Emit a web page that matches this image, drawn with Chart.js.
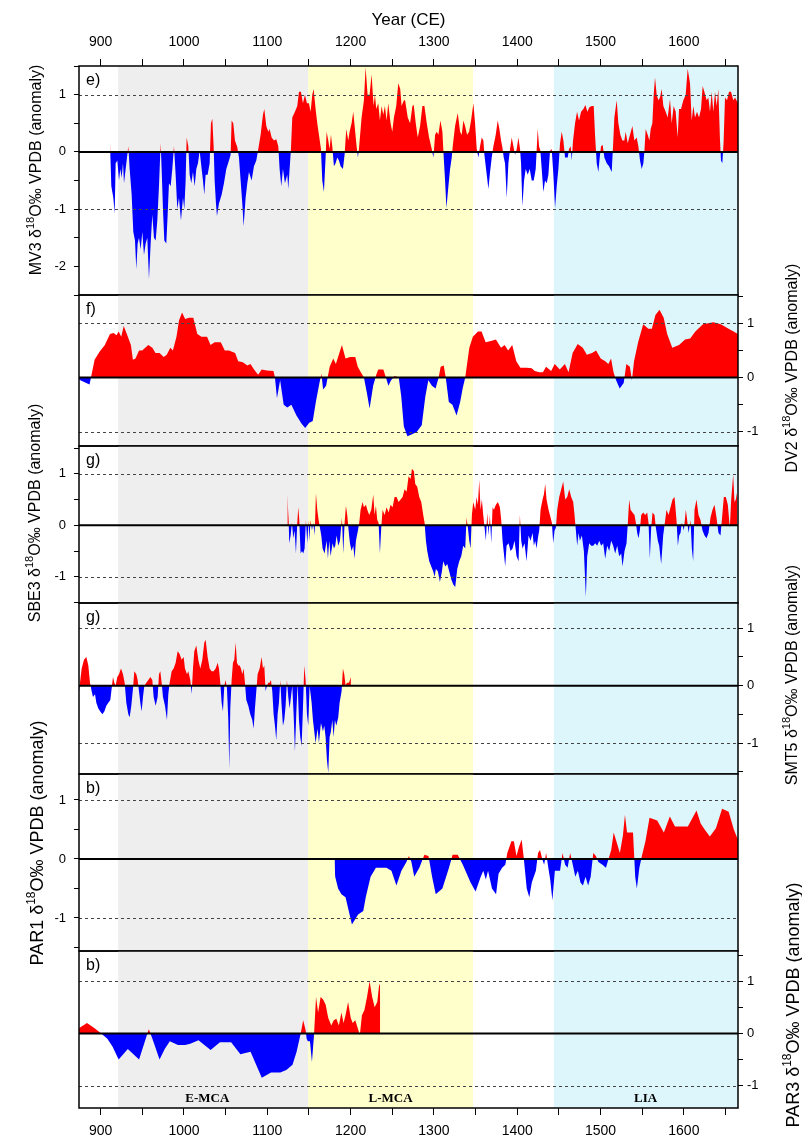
<!DOCTYPE html>
<html>
<head>
<meta charset="utf-8">
<script src="https://cdn.jsdelivr.net/npm/chart.js@4.4.1/dist/chart.umd.min.js"></script>
<style>
html,body{margin:0;padding:0;background:#fff;}
#wrap{position:relative;width:802px;height:1139px;overflow:hidden;background:#fff;}
#wrap canvas{position:absolute;left:0;top:0;}
</style>
</head>
<body>
<div id="wrap">
<canvas id="c0" width="802" height="1139"></canvas>
<canvas id="c1" width="802" height="1139"></canvas>
<canvas id="c2" width="802" height="1139"></canvas>
<canvas id="c3" width="802" height="1139"></canvas>
<canvas id="c4" width="802" height="1139"></canvas>
<canvas id="c5" width="802" height="1139"></canvas>
</div>
<script>
// ---------------- DATA ----------------
const yearTickValues = [900,950,1000,1050,1100,1150,1200,1250,1300,1350,1400,1450,1500,1550,1600,1650];
const periodNames = ['E-MCA','L-MCA','LIA'];
const periodStart = [921, 1149, 1444];
const periodEnd = [1149, 1347, 1665];
const periodLabelYear = [1028, 1248, 1554];
const recordNames = ['MV3','DV2','SBE3','SMT5','PAR1','PAR3'];
const panelLetters = ['e)','f)','g)','g)','b)','b)'];

// [year CE, d18O anomaly]
const mv3Series = [[911.2,0.15],[912.8,-0.6],[915.2,-0.8],[916.8,-1.08],[918,-0.2],[920,-0.15],[922,-0.5],[923.6,-0.3],[925.2,-0.45],[926.8,-0.2],[928,-0.55],[930,-0.3],[932,-0.05],[933.2,0.1],[934.8,-0.3],[937.2,-0.75],[939.2,-1.4],[941.2,-1.55],[942.8,-2.05],[944.4,-1.6],[946,-1.5],[948,-1.7],[950,-1.4],[952,-1.8],[954,-1.6],[956,-1.5],[958,-2.22],[960,-1.6],[962,-1.1],[964,-1.5],[966,-1.55],[968,-1.2],[970,-0.6],[972,0.15],[973.2,-0.3],[974.8,-1.0],[976.4,-1.55],[978.8,-1.6],[980.4,-1.1],[982,-0.55],[984,-0.6],[986,-0.3],[988,0.1],[990,-0.4],[992,-1.0],[994,-0.8],[996.4,-1.2],[998.8,-0.8],[1000.4,-1.0],[1002,-0.5],[1003.2,0.25],[1005.2,0.1],[1006.8,-0.4],[1008.8,-0.55],[1010.8,-0.35],[1012.8,-0.6],[1014.8,-0.3],[1016.8,-0.2],[1018.8,0.02],[1021.2,-0.3],[1022.8,-0.5],[1024.4,-0.75],[1026,-0.4],[1028.4,-0.4],[1030.8,-0.2],[1032.4,0.5],[1034,0.58],[1035.6,0.1],[1036.8,-0.5],[1038.4,-0.9],[1039.6,-1.12],[1042,-0.9],[1045.2,-0.75],[1048,-0.55],[1050.8,-0.3],[1054,-0.15],[1056,-0.05],[1057.2,0.55],[1059.2,0.5],[1061.2,0.2],[1064,0.08],[1066,-0.1],[1068,-0.5],[1070,-0.9],[1071.6,-1.3],[1074,-0.8],[1076,-0.55],[1078,-0.35],[1081.2,-0.5],[1084,-0.25],[1086.8,-0.15],[1089.2,0.05],[1092,0.3],[1094.8,0.65],[1096.4,0.75],[1098.8,0.45],[1101.2,0.35],[1102.8,0.4],[1105.2,0.25],[1108,0.2],[1110.8,0.22],[1113.2,0.1],[1114.8,-0.3],[1116.8,-0.6],[1118.8,-0.3],[1121.2,-0.55],[1124,-0.4],[1125.2,-0.65],[1126.8,-0.3],[1128.4,0.05],[1130,0.6],[1133.2,0.7],[1136,0.8],[1138,1.05],[1140.4,1.05],[1142.8,0.85],[1145.2,1.0],[1147.6,0.85],[1150,0.85],[1152,0.7],[1154,1.0],[1155.6,1.1],[1158,0.75],[1160,0.5],[1162,0.3],[1164.4,0.05],[1166,-0.5],[1168,-0.7],[1170,-0.1],[1171.2,0.35],[1173.2,0.2],[1174.8,0.05],[1176.4,0.3],[1178,0.1],[1180,-0.25],[1182,-0.2],[1184,-0.1],[1186,-0.15],[1188,-0.25],[1190.8,-0.3],[1192.8,-0.05],[1194.8,0.4],[1197.2,0.2],[1198.8,0.35],[1201.2,0.5],[1203.2,0.7],[1205.2,0.4],[1207.2,0.1],[1208.8,-0.1],[1210,0.05],[1213.2,0.6],[1216,0.9],[1218,1.48],[1220.4,1.0],[1222.8,1.0],[1225.2,1.35],[1227.6,0.8],[1229.2,1.0],[1230.8,0.75],[1233.2,0.85],[1235.2,0.55],[1237.2,0.8],[1239.2,0.65],[1241.2,0.8],[1243.2,0.55],[1245.2,0.85],[1248,0.5],[1250,0.35],[1252,0.6],[1254.8,0.8],[1257.2,1.2],[1259.6,1.1],[1261.2,0.8],[1264,0.9],[1265.4,0.9],[1268.6,0.6],[1271.4,0.5],[1274.2,0.8],[1275.8,0.82],[1278.2,0.5],[1280.6,0.25],[1283.4,0.45],[1286.2,0.8],[1288.6,0.8],[1291.4,0.5],[1294.2,0.25],[1297.4,0.05],[1299.4,-0.1],[1301.4,0.3],[1303.4,0.35],[1305.4,0.3],[1307.8,0.55],[1310.2,0.35],[1311.8,-0.1],[1313.4,-0.5],[1315,-0.98],[1317.4,-0.6],[1319.4,-0.3],[1321.4,-0.1],[1322.6,0.1],[1325.4,0.45],[1328.6,0.68],[1331.4,0.35],[1333.4,0.3],[1335.4,0.55],[1337.4,0.45],[1339.8,0.3],[1342.2,0.35],[1344.6,0.55],[1347.4,0.85],[1349.4,0.5],[1351.4,0.05],[1353.4,-0.1],[1355.4,0.1],[1357.4,0.25],[1359.4,0.2],[1360.6,-0.05],[1362.6,-0.3],[1365.4,-0.65],[1367.4,-0.35],[1369.4,-0.1],[1371.4,0.1],[1374.2,0.3],[1376.6,0.55],[1378.6,0.4],[1380.6,0.2],[1382.2,0.08],[1383.8,-0.1],[1385.4,-0.2],[1387.4,-0.8],[1389.4,-0.2],[1391.4,0.05],[1393.4,0.25],[1395.4,0.1],[1397.4,-0.05],[1399.4,0.05],[1401.4,0.25],[1403.4,0.05],[1404.6,-0.2],[1406.2,-0.95],[1408.2,-0.5],[1410.2,-0.3],[1412.6,-0.4],[1415,-0.3],[1417.4,-0.5],[1419.8,-0.5],[1422.2,-0.3],[1424.6,0.4],[1426.2,0.1],[1427.8,0.02],[1429.4,-0.3],[1431.4,-0.7],[1433.4,-0.5],[1435.4,-0.55],[1437.4,-0.4],[1439.4,0.02],[1441.4,0.05],[1443.4,-0.4],[1445.4,-0.98],[1447.4,-0.6],[1449.4,-0.3],[1451.4,0.15],[1453.4,0.35],[1455.4,0.2],[1457.4,-0.1],[1460.6,-0.1],[1462.2,0.05],[1464.2,0.1],[1465.4,-0.15],[1467,0.2],[1469.4,0.5],[1471.8,0.7],[1474.2,0.55],[1476.6,0.7],[1479.4,0.75],[1481.8,0.82],[1484.2,0.7],[1486.6,0.78],[1489.4,0.8],[1491.8,0.8],[1493.4,0.3],[1495.4,-0.2],[1497.4,-0.35],[1499,-0.1],[1500.6,0.1],[1502.6,0.12],[1504.6,-0.1],[1507.4,-0.2],[1510.2,-0.25],[1513.4,-0.35],[1515,0.1],[1516.6,0.6],[1519.4,0.9],[1521.4,0.5],[1523.8,0.3],[1526.2,0.2],[1528.6,0.2],[1530.2,0.35],[1532.6,0.15],[1535.4,0.3],[1538.2,0.45],[1540.6,0.2],[1543.4,0.25],[1545.4,0.1],[1547.4,-0.15],[1549.4,-0.3],[1551.4,-0.2],[1552.6,0],[1554.2,0.4],[1556.6,0.3],[1558.6,0.2],[1560.2,0.4],[1562.2,0.5],[1563.8,1.0],[1565.4,1.3],[1567.4,1.0],[1569.4,0.9],[1571.4,0.95],[1573.4,1.1],[1575.4,0.8],[1578.2,0.7],[1580.6,0.6],[1583.4,0.92],[1585.4,0.5],[1587.8,0.8],[1590.2,0.7],[1592.6,0.25],[1594.2,0.75],[1596.6,0.75],[1599.4,0.9],[1602.2,1.0],[1604.6,1.45],[1607.4,1.2],[1609.4,0.55],[1611.4,0.8],[1613.4,0.6],[1615.8,0.7],[1618.2,0.6],[1620.6,0.75],[1622.6,1.15],[1624.6,1.05],[1627.4,0.9],[1629.4,0.95],[1631.4,0.7],[1633.4,1.05],[1635.4,0.7],[1637.4,1.05],[1639.4,0.8],[1641.4,1.1],[1643.4,0.2],[1644.6,-0.15],[1646.2,-0.2],[1647.8,0.2],[1649.4,0.95],[1651.8,0.9],[1654.2,1.05],[1656.6,1.05],[1659.4,0.9],[1661.4,0.95],[1665,0.85]];

const dv2Series = [[874,-0.03],[875.6,-0.05],[886.6,-0.13],[888.4,0],[892.7,0.33],[898.9,0.48],[905,0.6],[911.2,0.8],[915.5,0.82],[919,0.78],[921.6,0.85],[924.7,0.75],[927.7,0.95],[931.4,0.8],[936.3,0.6],[938.7,0.33],[941.8,0.35],[946.1,0.5],[949.8,0.5],[953.5,0.55],[957.2,0.6],[962.1,0.55],[965.8,0.45],[970.7,0.45],[975.6,0.38],[979.3,0.42],[983.6,0.55],[986.7,0.5],[991,0.75],[994,1.05],[997.7,1.2],[1001.4,1.08],[1006.3,1.1],[1011.2,1.1],[1016,0.8],[1020.9,0.75],[1027.7,0.75],[1031.9,0.6],[1036.8,0.65],[1044.2,0.65],[1049,0.5],[1054,0.5],[1061.4,0.45],[1065.1,0.3],[1070.6,0.28],[1076.1,0.22],[1079.8,0.25],[1084.1,0.15],[1089,0.05],[1093.3,0.15],[1099.4,0.13],[1107.4,0.12],[1109.2,0],[1111.6,-0.38],[1115.4,-0.05],[1119.7,-0.5],[1124,-0.55],[1128.9,-0.5],[1135,-0.7],[1141.2,-0.85],[1145.5,-0.93],[1150.4,-0.83],[1154.6,-0.8],[1158.3,-0.45],[1162.6,-0.1],[1165,0.07],[1167,-0.22],[1170.6,-0.15],[1174.9,0.2],[1179.2,0.35],[1182.3,0.25],[1186.5,0.45],[1189.6,0.6],[1193.9,0.35],[1199.4,0.38],[1205.6,0.38],[1208.6,0.2],[1212.3,0.1],[1216,0],[1219.7,-0.3],[1222.8,-0.57],[1227.1,-0.15],[1230.8,0.05],[1233.2,0.15],[1239.3,0.15],[1242.4,0],[1245.4,-0.15],[1248.6,-0.05],[1252.9,0.03],[1257.8,0],[1260.8,-0.35],[1263.9,-0.9],[1268.2,-1.08],[1273.2,-1.05],[1279.3,-1.0],[1285.4,-0.88],[1289.7,-0.35],[1293.3,-0.05],[1297.6,-0.15],[1302,-0.2],[1305.7,0],[1308.1,0.2],[1311.8,0.22],[1314.2,0],[1317.9,-0.45],[1322.2,-0.5],[1327.2,-0.7],[1331.5,-0.45],[1334.5,-0.2],[1337.6,0],[1342.5,0.55],[1346.7,0.75],[1352.9,0.85],[1357.2,0.85],[1362.1,0.65],[1369.5,0.68],[1374.4,0.7],[1380.6,0.55],[1384.9,0.6],[1389.1,0.5],[1394,0.6],[1398.9,0.3],[1403.8,0.18],[1411.3,0.18],[1417.4,0.17],[1421,0.12],[1426.5,0.1],[1430.8,0.1],[1434.6,0.2],[1440.7,0.12],[1445,0.25],[1451.1,0.15],[1457.2,0.25],[1461.6,0.1],[1466.5,0.45],[1472.6,0.62],[1478.7,0.55],[1483.6,0.42],[1489.8,0.45],[1494.7,0.5],[1500.2,0.35],[1505.7,0.3],[1509.4,0.25],[1512.6,0.35],[1515.6,0.1],[1518.7,-0.05],[1523,-0.2],[1527.8,-0.1],[1531,0.25],[1535.2,0.2],[1537.7,-0.05],[1540.2,0.3],[1545.1,0.65],[1551.2,0.98],[1557.3,0.9],[1561.6,0.9],[1565.9,1.15],[1570.8,1.25],[1575.8,1.1],[1580,0.8],[1586.1,0.55],[1594.2,0.6],[1601.5,0.7],[1607.6,0.72],[1613.8,0.85],[1622.9,0.98],[1635.3,1.02],[1644.4,0.98],[1653.7,0.9],[1662.9,0.82],[1665,0.8]];

const sbe3Series = [[1124,0.6],[1125.6,0.1],[1126.4,-0.35],[1128,-0.2],[1129.6,0.05],[1131.2,-0.25],[1132.8,-0.1],[1134.4,-0.55],[1136,0.05],[1137.2,0.35],[1138.4,0.1],[1140,-0.55],[1141.6,-0.5],[1143.2,-0.55],[1144.8,-0.45],[1146.4,0.1],[1148,-0.35],[1149.6,0.1],[1150.4,-0.3],[1152,0.1],[1153.6,-0.1],[1155.2,0.05],[1156.8,-0.2],[1158.4,0.62],[1160,0.3],[1161.6,0.1],[1163.2,-0.05],[1164.8,-0.2],[1166.4,-0.45],[1168.8,-0.55],[1171.2,-0.3],[1172.8,-0.65],[1174.4,-0.3],[1176,-0.6],[1178.4,-0.35],[1180,-0.45],[1181.6,-0.4],[1183.2,-0.2],[1185.2,-0.4],[1187.2,-0.3],[1189.6,0.15],[1191.2,-0.55],[1192.8,0.05],[1194.4,0.38],[1196,0.2],[1197.6,-0.1],[1199.2,-0.35],[1201.2,-0.5],[1203.2,-0.4],[1204.8,-0.65],[1206.4,-0.3],[1208.8,-0.1],[1210.4,0.05],[1212,0.3],[1214.4,0.45],[1216,0.35],[1218.4,0.4],[1220,0.3],[1222.4,0.2],[1224.8,0.3],[1227.2,0.6],[1228.8,0.2],[1230.4,0.38],[1232,0.1],[1233.6,0.05],[1235.2,-0.55],[1236.8,-0.05],[1238.4,0.3],[1240.8,0.2],[1243.2,0.35],[1245.6,0.25],[1248,0.4],[1250.4,0.35],[1252.8,0.55],[1255.2,0.55],[1257.6,0.45],[1260,0.5],[1262.4,0.55],[1264.8,0.7],[1267.2,0.65],[1269.6,0.95],[1272,0.9],[1273.6,1.1],[1276,1.05],[1277.6,0.8],[1280,0.75],[1282.4,0.55],[1284.8,0.45],[1287.2,0.2],[1288.8,0.05],[1290.4,-0.3],[1292,-0.5],[1294.4,-0.7],[1296.8,-0.8],[1299.2,-0.9],[1300.8,-1.0],[1302.4,-0.85],[1304.8,-0.9],[1307.2,-1.1],[1309.6,-0.9],[1311.2,-0.7],[1313.6,-0.8],[1316,-0.75],[1318.4,-0.9],[1320.8,-1.05],[1323.2,-1.15],[1325.6,-1.2],[1328,-0.85],[1330.4,-0.7],[1332.8,-0.6],[1335.2,-0.4],[1337.6,-0.45],[1339.2,0.15],[1340.8,-0.05],[1342.4,-0.3],[1344,-0.45],[1345.6,0.2],[1347.2,0.45],[1349.6,0.3],[1351.2,0.55],[1352.8,0.4],[1354.4,0.88],[1356,0.3],[1357.6,0.5],[1359.2,0.2],[1360.8,-0.05],[1362.4,-0.3],[1364,0.25],[1365.6,-0.2],[1367.2,0.2],[1368.8,-0.35],[1370.4,0.35],[1372,0.3],[1374.4,0.4],[1376.8,0.45],[1379.2,0.35],[1380.8,0.1],[1382.4,-0.3],[1384,-0.55],[1385.6,-0.8],[1387.2,-0.4],[1389.6,-0.35],[1392,-0.5],[1394.4,-0.45],[1396.8,-0.3],[1399.2,-0.6],[1401.6,-0.7],[1403.2,0.2],[1404.8,-0.3],[1406.4,-0.45],[1408.8,-0.35],[1411.2,-0.7],[1413.6,-0.2],[1416,-0.3],[1418.4,-0.15],[1420,-0.4],[1421.6,-0.3],[1423.2,-0.45],[1424.8,-0.25],[1426.4,-0.1],[1428,0.3],[1430.4,0.5],[1432,0.6],[1433.6,0.8],[1435.2,0.5],[1437.6,0.3],[1440,0.15],[1441.6,0.05],[1443.2,-0.35],[1444.8,-0.1],[1446.4,-0.05],[1448,0.3],[1450.4,0.55],[1452.8,0.7],[1455.2,0.85],[1457.6,0.5],[1460,0.55],[1462.4,0.7],[1464.8,0.55],[1467.2,0.45],[1468.8,0.2],[1470.4,-0.1],[1472,-0.4],[1473.6,-0.15],[1475.2,-0.3],[1477.6,-0.2],[1480,-0.5],[1482.4,-1.4],[1484,-0.6],[1486.4,-0.35],[1488.8,-0.4],[1491.2,-0.4],[1493.6,-0.35],[1496,-0.4],[1498.4,-0.3],[1500.8,-0.4],[1503.2,-0.35],[1505.6,-0.65],[1508,-0.4],[1510.4,-0.5],[1512.8,-0.3],[1515.2,-0.4],[1517.6,-0.55],[1520,-0.4],[1522.4,-0.6],[1524.8,-0.55],[1526.4,-0.8],[1528.8,-0.5],[1531.2,-0.35],[1532.8,0.05],[1534.4,0.5],[1536,0.3],[1538.4,0.25],[1540.8,0.2],[1542.4,0.05],[1544,-0.15],[1545.6,-0.25],[1547.2,-0.1],[1548.8,0.2],[1551.2,0.25],[1553.6,0.2],[1556,0.25],[1557.6,0.05],[1559.2,-0.65],[1560.8,-0.05],[1562.4,0.25],[1564.8,0.2],[1566.4,-0.05],[1568.8,-0.3],[1570.4,-0.4],[1572.8,-0.75],[1575.2,-0.2],[1577.6,0.1],[1579.2,0.3],[1581.6,0.2],[1584,0.35],[1586.4,0.5],[1588.8,0.55],[1591.2,0.1],[1592.8,-0.4],[1594.4,-0.2],[1596,-0.15],[1597.6,0.05],[1600,-0.1],[1602.4,0.3],[1604,0.1],[1605.6,-0.15],[1608,0.1],[1609.6,-0.45],[1611.2,-0.7],[1612.8,0.3],[1615.2,0.5],[1617.6,0.2],[1620,0.1],[1622.4,-0.1],[1624.8,-0.2],[1627.2,-0.25],[1629.6,-0.15],[1632,0.15],[1634.4,0.3],[1636.8,0.4],[1639.2,0.15],[1641.6,-0.15],[1644,-0.2],[1646.4,0.25],[1648,0.55],[1650.4,0.55],[1652.8,0.4],[1655.2,-0.05],[1656.8,0.5],[1659.2,0.98],[1660.8,0.45],[1662.4,0.5],[1664,0.65]];

const smt5Series = [[874,-0.1],[875.2,-0.1],[877.2,0.3],[880,0.45],[882.8,0.5],[885.2,0.35],[887.2,0.05],[889.2,-0.1],[890.8,-0.2],[893.2,-0.15],[894.8,-0.3],[897.2,-0.4],[899.6,-0.45],[902,-0.5],[904.4,-0.45],[906.8,-0.35],[909.2,-0.3],[911.6,-0.25],[913.2,-0.05],[914.8,0.15],[916.4,0.05],[918,0],[920,0.15],[922,0.2],[924.4,0.3],[926.8,0.2],[928.8,0.05],[930.8,-0.3],[933.2,-0.5],[934.8,-0.55],[936.8,-0.35],[938.8,-0.05],[940.4,0.25],[942.8,0.2],[944.4,0.1],[946,-0.1],[947.6,-0.3],[949.2,-0.45],[950.8,-0.2],[952.4,0],[954.8,0.05],[957.2,0.1],[959.6,0.15],[962,0.1],[963.6,-0.2],[966,-0.35],[968.4,-0.2],[970,0.2],[971.6,0.25],[973.2,0.05],[974.8,-0.2],[977.2,-0.35],[979.6,-0.6],[981.2,-0.15],[982.8,0.05],[985.2,0.25],[987.6,0.3],[990,0.4],[992.4,0.6],[994.8,0.55],[997.2,0.45],[999.6,0.5],[1001.2,0.3],[1003.6,0.2],[1005.2,0.25],[1007.6,0.1],[1009.2,-0.15],[1010.8,0.3],[1012.4,0.6],[1014.8,0.7],[1017.2,0.45],[1019.6,0.3],[1022,0.45],[1024.4,0.75],[1026,0.8],[1028.4,0.5],[1030.8,0.3],[1033.2,0.25],[1035.6,0.25],[1038,0.3],[1040.4,0.4],[1042,0.3],[1043.6,0.05],[1045.2,-0.3],[1046.8,-0.45],[1048.4,0],[1050,0.1],[1051.6,-0.05],[1053.2,-0.6],[1054.4,-1.45],[1055.6,-0.4],[1057.2,0.1],[1058.8,0.4],[1060.4,0.45],[1062,0.75],[1063.6,0.4],[1065.2,0.35],[1066.8,0.35],[1068.4,0.3],[1070,0.2],[1071.6,0.3],[1073.2,0.05],[1074.8,-0.25],[1077.2,-0.35],[1079.6,-0.5],[1082,-0.6],[1083.6,-0.75],[1085.2,-0.4],[1086.8,-0.1],[1088.4,0.2],[1090.8,0.3],[1093.2,0.5],[1094.8,0.3],[1096.4,0.35],[1098,-0.1],[1099.6,0],[1101.2,0.05],[1102.8,0.05],[1104.4,0.1],[1106,-0.1],[1107.6,-0.5],[1109.2,-0.7],[1110.8,-0.95],[1112.4,-0.5],[1114,-0.3],[1115.6,0.1],[1117.2,-0.35],[1118.8,-0.7],[1120.4,-0.6],[1122,-0.35],[1123.6,0.1],[1125.2,-0.2],[1126.8,-0.4],[1128.4,-0.2],[1130,0],[1131.6,-0.5],[1133.2,-1.15],[1134.8,-0.5],[1136.4,0.05],[1138,-0.6],[1139.6,-0.9],[1141.2,-1.05],[1142.8,-0.4],[1144.4,0.35],[1146,0.1],[1147.6,-0.5],[1149.2,-0.7],[1150.8,0],[1153.2,-0.3],[1154.8,-0.6],[1156.4,-0.8],[1158,-1.0],[1160.4,-0.75],[1162,-1.0],[1164.4,-0.65],[1166.8,-0.8],[1168.4,-0.7],[1170,-0.9],[1171.6,-1.3],[1173.2,-1.52],[1174.8,-0.9],[1176.4,-0.8],[1178,-0.6],[1179.6,-0.9],[1181.2,-0.6],[1182.8,-0.7],[1185.2,-0.55],[1186.8,-0.3],[1189.2,-0.1],[1190.8,0.3],[1192.4,0.2],[1194,0],[1195.6,0.05],[1198,0.05],[1200.4,0.15]];

const par1Series = [[1180.5,0],[1181.5,-0.3],[1185,-0.5],[1189,-0.6],[1193.9,-0.65],[1201.6,-1.11],[1209,-0.94],[1215.2,-0.88],[1218.2,-0.65],[1224,-0.3],[1230.4,-0.15],[1243,-0.15],[1249,-0.2],[1255,-0.45],[1261,-0.2],[1267,-0.05],[1270,0.05],[1273,-0.05],[1276.4,-0.3],[1282.5,-0.15],[1288.6,0.07],[1293.5,0.05],[1297.8,-0.3],[1302.2,-0.6],[1310.2,-0.5],[1318.1,-0.15],[1322.4,0.07],[1328.6,0.07],[1334.7,-0.1],[1344,-0.4],[1350,-0.55],[1356.2,-0.3],[1359.3,-0.2],[1362.3,-0.35],[1365,-0.2],[1369.7,-0.5],[1374.6,-0.6],[1377.6,-0.25],[1381.9,-0.15],[1385.7,-0.1],[1388.1,0.1],[1393,0.3],[1396,0.3],[1399.1,0.05],[1402,0.2],[1405.3,0.33],[1407.6,0.05],[1411.4,-0.5],[1414.5,-0.65],[1417.5,-0.4],[1422.4,-0.2],[1425,0.1],[1427.4,0.15],[1430,0],[1432.3,-0.1],[1434.7,0.1],[1437.3,-0.15],[1439.6,-0.35],[1442.2,-0.7],[1445.2,-0.2],[1451.4,-0.2],[1454.4,0.1],[1457.5,-0.1],[1460.5,-0.15],[1463.5,0.1],[1466.7,-0.1],[1469.7,-0.3],[1472.8,-0.2],[1475.9,-0.4],[1478.9,-0.45],[1482,-0.3],[1485.1,-0.45],[1488.2,-0.3],[1491.3,0.1],[1494.4,0.05],[1497.4,-0.05],[1502.3,-0.1],[1506.5,-0.15],[1509.6,0],[1512.8,0.15],[1515.8,0.45],[1519,0.3],[1523.2,0.1],[1526.9,0.4],[1529.3,0.75],[1531.8,0.45],[1535.5,0.45],[1539,0.45],[1541.6,-0.3],[1543.6,-0.5],[1546.6,-0.15],[1549.6,0.05],[1553.9,0.3],[1558.8,0.7],[1568,0.65],[1576,0.45],[1583.2,0.72],[1589.4,0.55],[1595.5,0.55],[1604.8,0.55],[1615.2,0.82],[1620.2,0.6],[1625,0.5],[1631.2,0.38],[1638.5,0.52],[1645.9,0.85],[1653.8,0.8],[1660,0.5],[1664.2,0.35],[1665,0.33]];

const par3Series = [[874,0.1],[875.6,0.12],[883.6,0.2],[892.7,0.1],[900.7,0],[908,-0.1],[914.2,-0.25],[921.6,-0.5],[932.6,-0.3],[946.1,-0.5],[954.1,-0.1],[957.8,0.08],[962.1,-0.1],[970.7,-0.5],[976.9,-0.3],[983,-0.15],[992.8,-0.22],[1001.4,-0.22],[1007.5,-0.2],[1017.4,-0.13],[1032,-0.32],[1043.2,-0.17],[1056.6,-0.17],[1067.7,-0.4],[1079.9,-0.35],[1093.4,-0.85],[1104.5,-0.75],[1115.6,-0.75],[1122.9,-0.7],[1130.3,-0.6],[1135.2,-0.35],[1140.1,0],[1143.1,0.25],[1146.2,0.05],[1147.2,-0.1],[1148.7,-0.15],[1151.2,-0.15],[1153.6,-0.55],[1156,-0.05],[1158.5,0.7],[1161,0.4],[1164,0.7],[1167,0.65],[1170.1,0.55],[1173.1,0.3],[1176.8,0.15],[1179.8,0.25],[1182.9,0.28],[1185.9,0.15],[1189,0.4],[1191.5,0.2],[1193.9,0.35],[1197,0.6],[1200.1,0.3],[1202.5,0.2],[1205.6,0.25],[1208.6,0.1],[1211.1,-0.03],[1213.6,0.35],[1216.6,0.45],[1219.7,0.7],[1222.8,1.0],[1225.9,0.7],[1228.9,0.5],[1232,0.6],[1234.4,0.95],[1235.5,0.9],[1235.7,0]];

// ---------------- STYLE / LAYOUT ----------------
const FONT = '"Liberation Sans", Arial, Helvetica, sans-serif';
const SERIF = '"Liberation Serif", "Times New Roman", serif';
const RED = '#ff0000', BLUE = '#0000ff';
const PERIOD_COLORS = ['#eeeeee', '#ffffcc', '#ddf6fb'];
const X_MIN = 874, X_MAX = 1665;
const W = 802, H = 1139, PLOT_L = 79, PLOT_R = 738;

Chart.defaults.font.family = FONT;
Chart.defaults.color = '#000';

const panels = [
  {series: mv3Series,  top: 66,  bottom: 295,  min: -2.5,  max: 1.5,  side: 'left',  xAxis: 'top',    title: {x: 41,  y: 170,  size: 16}},
  {series: dv2Series,  top: 295, bottom: 446,  min: -1.26, max: 1.52, side: 'right', xAxis: null,     title: {x: 797, y: 368,  size: 16}},
  {series: sbe3Series, top: 446, bottom: 603,  min: -1.51, max: 1.54, side: 'left',  xAxis: null,     title: {x: 40,  y: 513,  size: 16}},
  {series: smt5Series, top: 603, bottom: 774,  min: -1.54, max: 1.44, side: 'right', xAxis: null,     title: {x: 797, y: 675,  size: 16}},
  {series: par1Series, top: 774, bottom: 951,  min: -1.56, max: 1.44, side: 'left',  xAxis: null,     title: {x: 43,  y: 843,  size: 18}},
  {series: par3Series, top: 951, bottom: 1108, min: -1.43, max: 1.58, side: 'right', xAxis: 'bottom', title: {x: 799, y: 1005, size: 18}}
];

function drawYTitle(ctx, name, cx, cy, size) {
  const sup = Math.round(size * 0.68);
  const parts = [[name + ' \u03b4', size, 0], ['18', sup, size * 0.42], ['O\u2030 VPDB (anomaly)', size, 0]];
  ctx.save();
  ctx.translate(cx, cy);
  ctx.rotate(-Math.PI / 2);
  ctx.textBaseline = 'alphabetic';
  ctx.textAlign = 'left';
  ctx.fillStyle = '#000';
  let total = 0;
  const widths = parts.map(p => { ctx.font = p[1] + 'px ' + FONT; const w = ctx.measureText(p[0]).width; total += w; return w; });
  let px = -total / 2;
  parts.forEach((p, i) => { ctx.font = p[1] + 'px ' + FONT; ctx.fillText(p[0], px, -p[2]); px += widths[i]; });
  ctx.restore();
}

const decor = {
  id: 'decor',
  beforeDatasetsDraw(chart, args, o) {
    const {ctx, chartArea: a, scales: {x}} = chart;
    ctx.save();
    ctx.beginPath();
    ctx.rect(a.left, a.top, a.right - a.left, a.bottom - a.top);
    ctx.clip();
    periodStart.forEach((s, i) => {
      const x0 = x.getPixelForValue(s), x1 = x.getPixelForValue(periodEnd[i]);
      ctx.fillStyle = PERIOD_COLORS[i];
      ctx.fillRect(x0, a.top, x1 - x0, a.bottom - a.top);
    });
    ctx.restore();
  },
  afterDatasetsDraw(chart, args, o) {
    const {ctx, chartArea: a, scales: {x, y}} = chart;
    ctx.save();
    ctx.strokeStyle = '#444';
    ctx.lineWidth = 1;
    ctx.setLineDash([3, 3]);
    [1, -1].forEach(v => {
      if (v > y.min && v < y.max) {
        const py = Math.round(y.getPixelForValue(v)) + 0.5;
        ctx.beginPath(); ctx.moveTo(a.left, py); ctx.lineTo(a.right, py); ctx.stroke();
      }
    });
    ctx.setLineDash([]);
    ctx.strokeStyle = '#000';
    ctx.lineWidth = 2;
    const pz = y.getPixelForValue(0);
    ctx.beginPath(); ctx.moveTo(a.left, pz); ctx.lineTo(a.right, pz); ctx.stroke();
    ctx.lineWidth = 1.5;
    ctx.strokeRect(a.left, a.top, a.right - a.left, a.bottom - a.top);
    ctx.fillStyle = '#000';
    ctx.font = '16px ' + FONT;
    ctx.textAlign = 'left';
    ctx.textBaseline = 'alphabetic';
    ctx.fillText(o.letter, a.left + 7, a.top + 19);
    drawYTitle(ctx, o.name, o.title.x, o.title.y, o.title.size);
    if (o.periodLabels) {
      ctx.font = 'bold 13px ' + SERIF;
      ctx.textAlign = 'center';
      ctx.textBaseline = 'middle';
      periodNames.forEach((n, i) => ctx.fillText(n, x.getPixelForValue(periodLabelYear[i]), a.bottom - 9));
    }
    ctx.restore();
  }
};

function yTicks(scale) {
  const t = [];
  for (let k = Math.ceil(scale.min * 2 - 1e-9); k <= Math.floor(scale.max * 2 + 1e-9); k++) t.push({value: k / 2});
  scale.ticks = t;
}

panels.forEach((p, i) => {
  const hasX = !!p.xAxis;
  const padTop = p.xAxis === 'top' ? 0 : p.top;
  const padBottom = p.xAxis === 'bottom' ? 0 : H - p.bottom;
  const xScale = hasX ? {
    type: 'linear', min: X_MIN, max: X_MAX, position: p.xAxis,
    afterBuildTicks: s => { s.ticks = yearTickValues.map(v => ({value: v})); },
    afterFit: s => { s.height = p.xAxis === 'top' ? p.top : H - p.bottom; },
    grid: {drawOnChartArea: false, drawTicks: true, tickLength: 7, color: '#000', tickColor: '#000', tickWidth: 1},
    border: {display: false},
    ticks: {autoSkip: false, maxRotation: 0, minRotation: 0, padding: 8, font: {size: 14}, color: '#000',
            callback: v => (v % 100 === 0 ? String(v) : '')},
    title: {display: p.xAxis === 'top', text: 'Year (CE)', font: {size: 17}, color: '#000', padding: {top: 10, bottom: 0}}
  } : {type: 'linear', min: X_MIN, max: X_MAX, display: false};

  const yScale = {
    type: 'linear', min: p.min, max: p.max, position: p.side,
    afterBuildTicks: yTicks,
    afterFit: s => { s.width = p.side === 'left' ? PLOT_L : W - PLOT_R; },
    grid: {drawOnChartArea: false, drawTicks: true, tickLength: 5, color: '#000', tickColor: '#000', tickWidth: 1},
    border: {display: false},
    ticks: {autoSkip: false, padding: p.side === 'left' ? 8 : 4, font: {size: 13}, color: '#000',
            callback: v => (Number.isInteger(v) ? String(v) : '')}
  };

  new Chart(document.getElementById('c' + i), {
    type: 'line',
    data: {
      datasets: [{
        data: p.series.map(d => ({x: d[0], y: d[1]})),
        fill: {target: 'origin', above: RED, below: BLUE},
        backgroundColor: RED,
        borderColor: 'rgba(0,0,0,0)',
        borderWidth: 0,
        pointRadius: 0,
        tension: 0
      }]
    },
    options: {
      responsive: false,
      animation: false,
      devicePixelRatio: 1,
      events: [],
      layout: {autoPadding: false, padding: {
        top: padTop, bottom: padBottom,
        left: p.side === 'left' ? 0 : PLOT_L,
        right: p.side === 'left' ? W - PLOT_R : 0
      }},
      plugins: {
        legend: {display: false},
        tooltip: {enabled: false},
        decor: {letter: panelLetters[i], name: recordNames[i], title: p.title, periodLabels: i === panels.length - 1}
      },
      scales: {x: xScale, y: yScale}
    },
    plugins: [decor]
  });
});
</script>
</body>
</html>
